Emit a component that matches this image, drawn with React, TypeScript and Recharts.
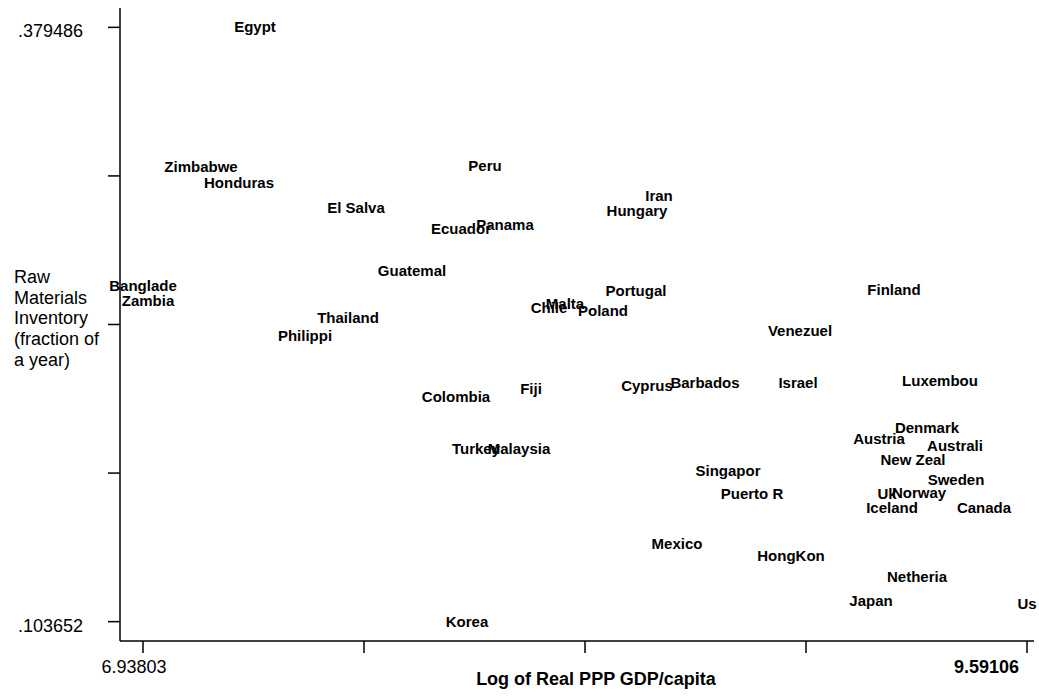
import React from "react"
import { ScatterChart, Scatter, XAxis, YAxis } from "recharts"

const countries = [
    "Egypt", "Zimbabwe", "Honduras", "Peru", "El Salva", "Iran", "Hungary", "Ecuador", "Panama", "Guatemal",
    "Banglade", "Zambia", "Portugal", "Finland", "Thailand", "Chile", "Malta", "Poland", "Philippi", "Venezuel",
    "Colombia", "Fiji", "Cyprus", "Barbados", "Israel", "Luxembou", "Denmark", "Austria", "Australi", "New Zeal",
    "Turkey", "Malaysia", "Singapor", "Sweden", "Puerto R", "Uk", "Norway", "Iceland", "Canada", "Mexico",
    "HongKon", "Netheria", "Japan", "Us", "Korea",
]

const logGdp = [
    7.2741, 7.1121, 7.2261, 7.9644, 7.5773, 8.4866, 8.4206, 7.8924, 8.0244, 7.7453,
    6.93803, 6.953, 8.4176, 9.1919, 7.5533, 8.1565, 8.2045, 8.3186, 7.4242, 8.9098,
    7.8774, 8.1025, 8.4506, 8.6247, 8.9038, 9.33, 9.2909, 9.1469, 9.375, 9.2489,
    7.9374, 8.0665, 8.6937, 9.378, 8.7657, 9.1709, 9.2669, 9.1859, 9.462, 8.5406,
    8.8828, 9.2609, 9.1229, 9.59106, 7.9104,
]

const rawInventory = [
    0.379486, 0.31447, 0.30703, 0.31494, 0.29586, 0.30098, 0.29446, 0.28608, 0.28795, 0.26654,
    0.25955, 0.25257, 0.25723, 0.25769, 0.24466, 0.24932, 0.25118, 0.24792, 0.23628, 0.23861,
    0.20789, 0.21162, 0.21301, 0.21441, 0.21441, 0.21534, 0.19347, 0.18835, 0.18509, 0.17858,
    0.1837, 0.1837, 0.17346, 0.16927, 0.16275, 0.16275, 0.16322, 0.15624, 0.15624, 0.13948,
    0.1339, 0.12459, 0.11342, 0.11202, 0.103652,
]

const xTicks = [6.93803, 7.60129, 8.26455, 8.9278, 9.59106]
const xTickLabels = ["6.93803", "", "", "", "9.59106"]
const yTicks = [0.103652, 0.17261, 0.24157, 0.31053, 0.379486]
const yTickLabels = [".103652", "", "", "", ".379486"]
const yTitleLines = ["Raw", "Materials", "Inventory", "(fraction of", "a year)"]
const xTitle = "Log of Real PPP GDP/capita"

const data = countries.map((name, i) => ({ name, x: logGdp[i], y: rawInventory[i] }))

const font = "'Liberation Sans', Arial, sans-serif"

function CountryLabel(props: any) {
    const { cx, cy, payload } = props
    return (
        <text x={cx} y={cy + 5} textAnchor="middle" fontFamily={font} fontSize={15} fontWeight="bold" fill="#000">
            {payload.name}
        </text>
    )
}

function XTick(props: any) {
    const { x, y, index } = props
    const label = xTickLabels[index]
    if (!label) return <g />
    const last = index === xTickLabels.length - 1
    return (
        <text x={last ? x + 6 : x - 9} y={y + 18} textAnchor={last ? "end" : "middle"}
            fontFamily={font} fontSize={18} fontWeight={last ? "bold" : "normal"} fill="#000">
            {label}
        </text>
    )
}

function YTick(props: any) {
    const { y, index } = props
    const label = yTickLabels[index]
    if (!label) return <g />
    return (
        <text x={83} y={y + 10} textAnchor="end" fontFamily={font} fontSize={18} fill="#000">
            {label}
        </text>
    )
}

export default function App() {
    return (
        <div style={{ position: "absolute", left: 0, top: 0, width: 1039, height: 700, background: "#fff" }}>
            <ScatterChart width={1039} height={700} margin={{ top: 8, right: 5, bottom: 0, left: 0 }}>
                <XAxis
                    type="number"
                    dataKey="x"
                    domain={[6.869, 9.612]}
                    ticks={xTicks}
                    height={59}
                    tickSize={12}
                    tick={<XTick />}
                    stroke="#000"
                    axisLine={{ stroke: "#000", strokeWidth: 1.5 }}
                    tickLine={{ stroke: "#000", strokeWidth: 1.5 }}
                />
                <YAxis
                    type="number"
                    dataKey="y"
                    domain={[0.09467, 0.38847]}
                    ticks={yTicks}
                    width={120}
                    tickSize={12}
                    tick={<YTick />}
                    stroke="#000"
                    axisLine={{ stroke: "#000", strokeWidth: 1.5 }}
                    tickLine={{ stroke: "#000", strokeWidth: 1.5 }}
                />
                <Scatter data={data} shape={<CountryLabel />} isAnimationActive={false} />
            </ScatterChart>
            <svg width={1039} height={700} style={{ position: "absolute", left: 0, top: 0, pointerEvents: "none" }}>
                {yTitleLines.map((line, i) => (
                    <text key={line} x={14} y={283 + i * 20.7} fontFamily={font} fontSize={18} fill="#000">
                        {line}
                    </text>
                ))}
                <text x={596} y={685} textAnchor="middle" fontFamily={font} fontSize={18} fontWeight="bold" fill="#000">
                    {xTitle}
                </text>
            </svg>
        </div>
    )
}
